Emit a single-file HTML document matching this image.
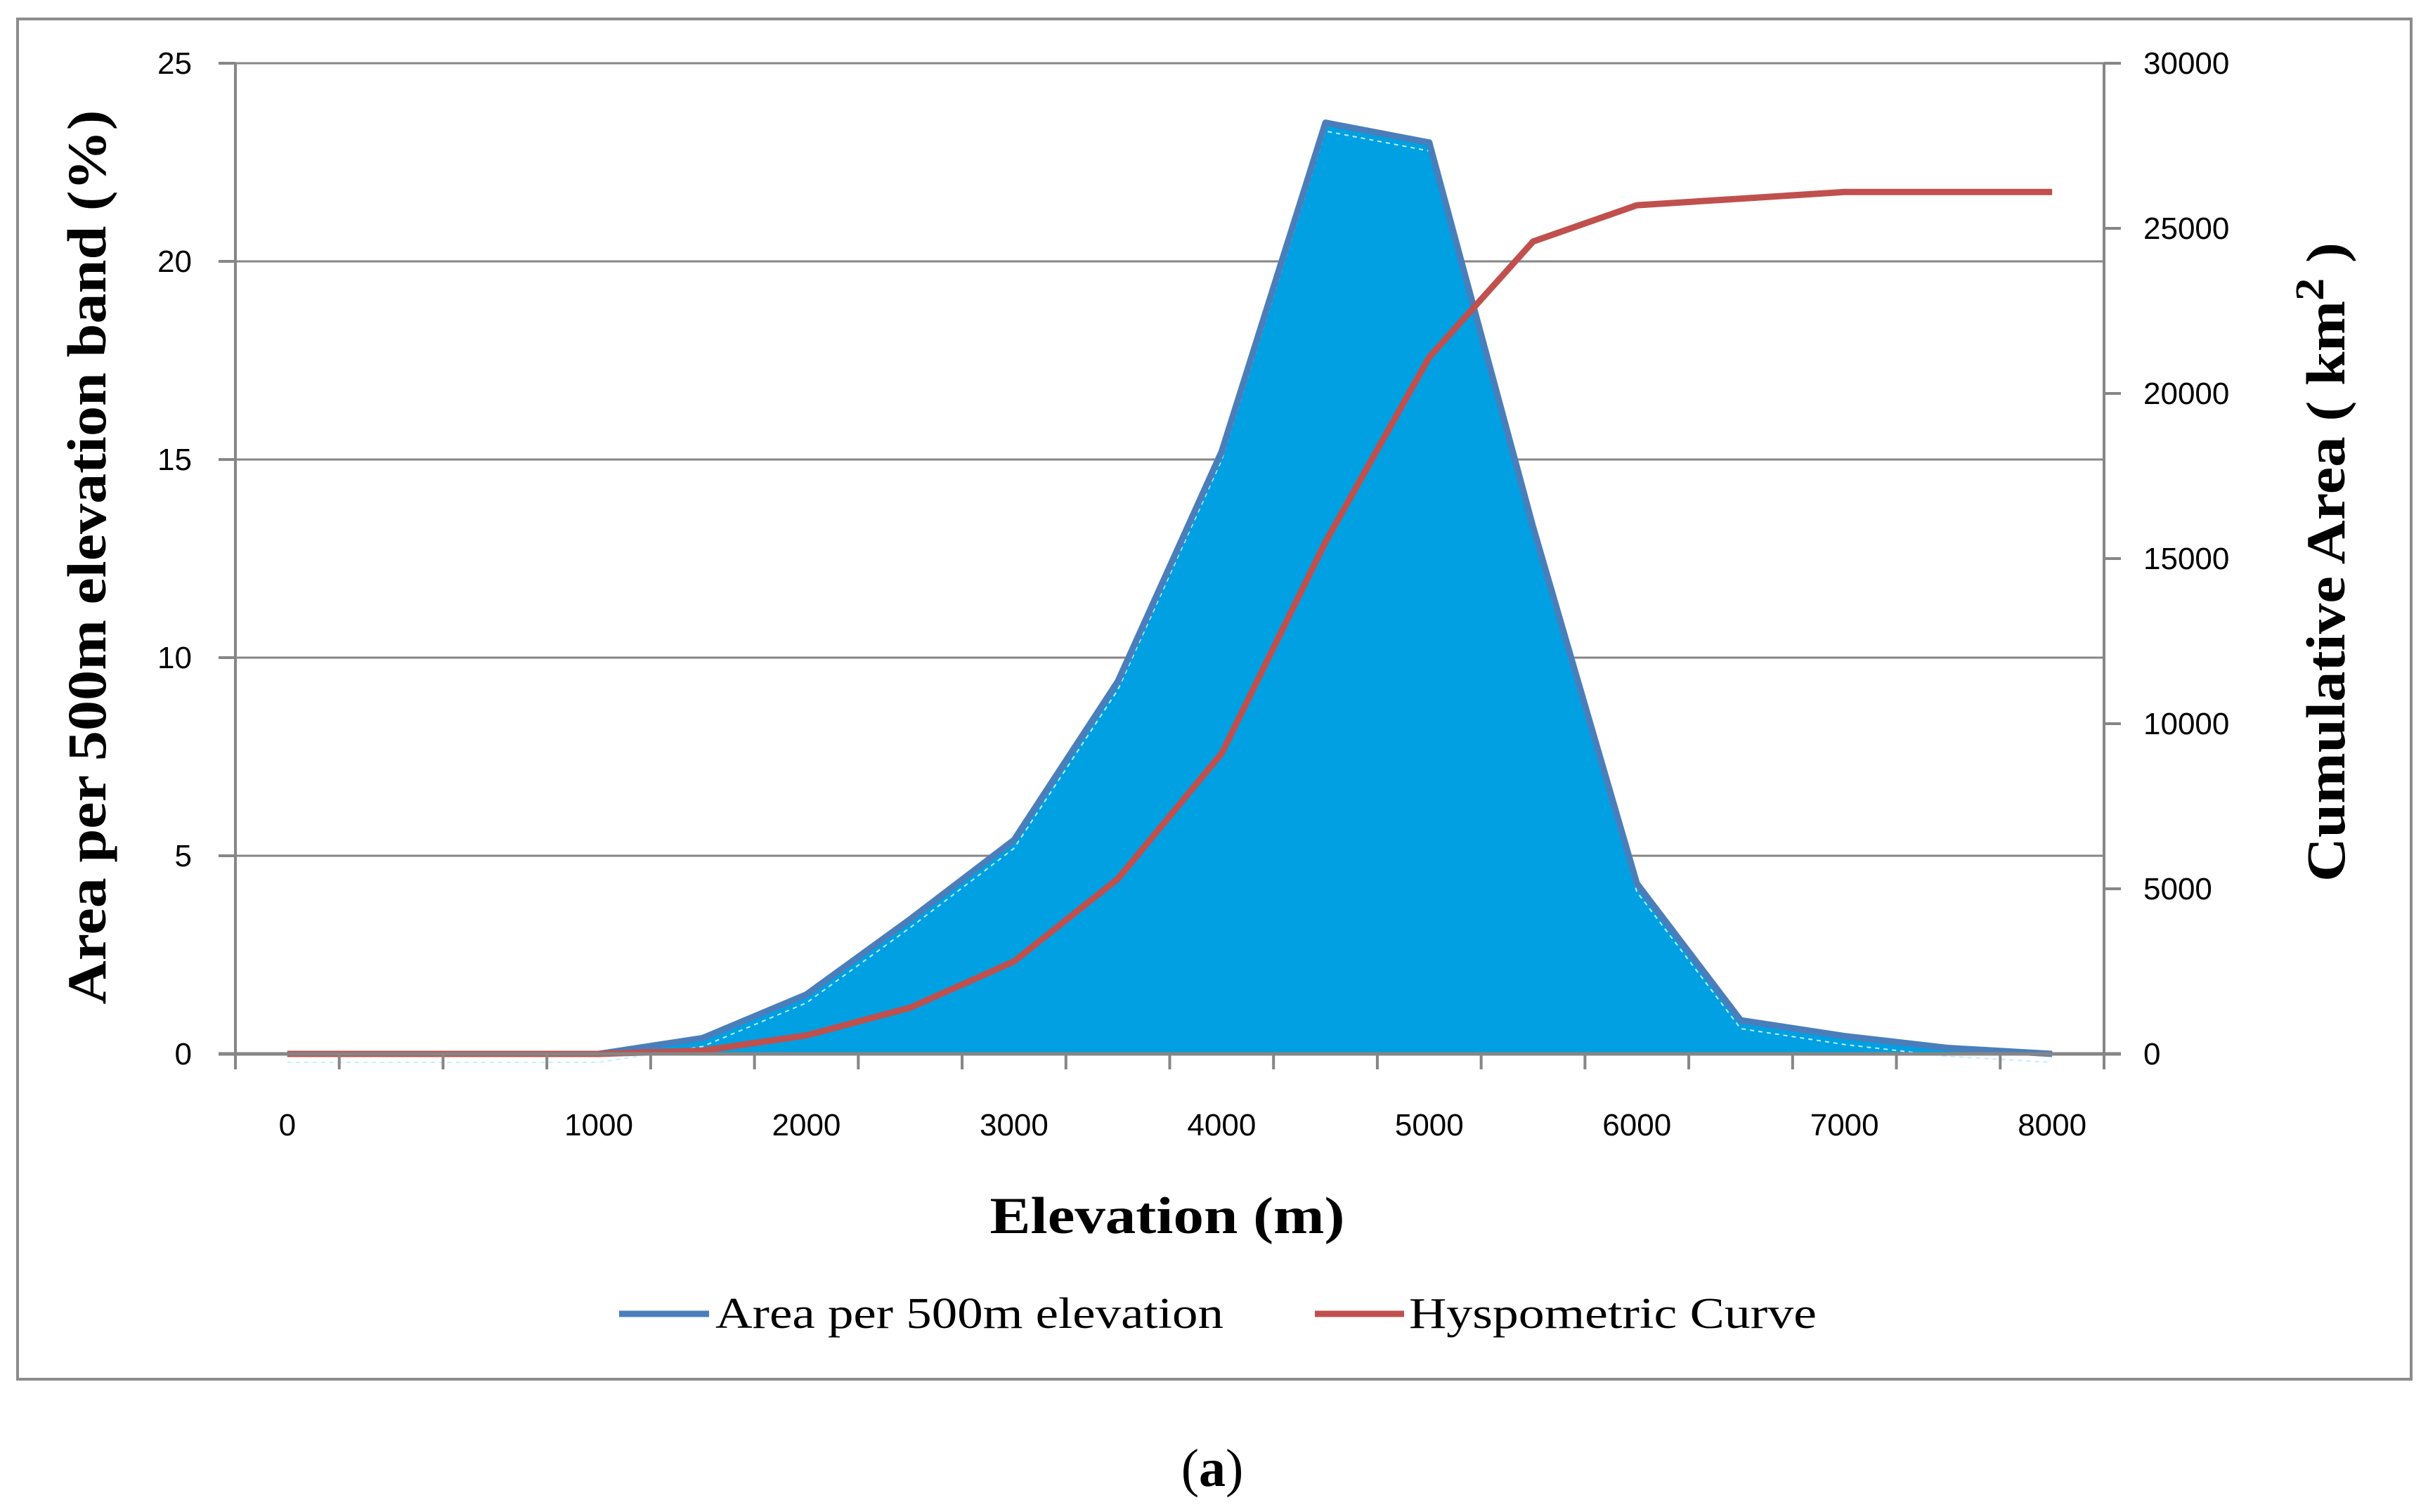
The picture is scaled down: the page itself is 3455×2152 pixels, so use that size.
<!DOCTYPE html>
<html><head><meta charset="utf-8"><style>
html,body{margin:0;padding:0;background:#fff;}
svg{display:block;}
</style></head><body>
<svg id="chart" width="3455" height="2152" viewBox="0 0 3455 2152" xmlns="http://www.w3.org/2000/svg">
<rect x="25" y="27" width="3406" height="1936" fill="#fff" stroke="#8c8c8c" stroke-width="4"/>
<g id="grid"></g>
<g id="series"></g>
<g id="axes"></g>
<text transform="translate(150,793) rotate(-90)" text-anchor="middle" font-family="Liberation Serif, serif" font-weight="bold" font-size="78" textLength="1273" lengthAdjust="spacingAndGlyphs">Area per 500m elevation band (%)</text>
<text transform="translate(3336,1255) rotate(-90)" text-anchor="start" font-family="Liberation Serif, serif" font-weight="bold" font-size="78" textLength="910" lengthAdjust="spacingAndGlyphs">Cumulative Area ( km<tspan font-size="58" dy="-30">2</tspan><tspan dy="30"> )</tspan></text>
<text x="1661" y="1755" text-anchor="middle" font-family="Liberation Serif, serif" font-weight="bold" font-size="74" textLength="505" lengthAdjust="spacingAndGlyphs">Elevation (m)</text>
<g>
<line x1="881" y1="1870" x2="1009" y2="1870" stroke="#4a7ebb" stroke-width="9"/>
<text x="1018" y="1890" font-family="Liberation Serif, serif" font-size="62" textLength="723" lengthAdjust="spacingAndGlyphs">Area per 500m elevation</text>
<line x1="1871" y1="1870" x2="1998" y2="1870" stroke="#c0504d" stroke-width="9"/>
<text x="2005" y="1890" font-family="Liberation Serif, serif" font-size="62" textLength="580" lengthAdjust="spacingAndGlyphs">Hyspometric Curve</text>
</g>
<text x="1725" y="2115" text-anchor="middle" font-family="Liberation Serif, serif" font-size="76">(<tspan font-weight="bold">a</tspan>)</text>
</svg>
<script>
const categories = ["0","","","1000","","2000","","3000","","4000","","5000","","6000","","7000","","8000"];
const areaPercent = [0,0,0,0,0.4,1.5,3.4,5.4,9.4,15.2,23.5,23.0,13.3,4.3,0.85,0.45,0.15,0];
const cumulativeArea = [0,0,0,0,100,560,1400,2800,5300,9100,15500,21100,24600,25700,25900,26100,26100,26100];
const leftTicks = [0,5,10,15,20,25];
const rightTicks = [0,5000,10000,15000,20000,25000,30000];

const NS="http://www.w3.org/2000/svg";
const L=335,R=2994,T=90,B=1500;
const cw=(R-L)/categories.length;
const xc=i=>L+cw*(i+0.5);
const yL=v=>B-(v/25)*(B-T);
const yR=v=>B-(v/30000)*(B-T);
function mk(tag,attrs,parent){const e=document.createElementNS(NS,tag);for(const k in attrs)e.setAttribute(k,attrs[k]);parent.appendChild(e);return e;}
const grid=document.getElementById('grid'),series=document.getElementById('series'),axes=document.getElementById('axes');
leftTicks.forEach(v=>{
  if(v>0){const g=mk('line',{x1:L,x2:R,y1:yL(v),y2:yL(v),stroke:'#868686','stroke-width':3},grid);
  
  }
  const tk=mk('line',{x1:L-24,x2:L,y1:yL(v),y2:yL(v),stroke:'#868686','stroke-width':4},axes);
  
  
  const t=mk('text',{x:273,y:yL(v)+15,'text-anchor':'end','font-family':'Liberation Sans, sans-serif','font-size':44},axes);
  
  
  t.textContent=v;
});
rightTicks.forEach(v=>{
  const tk=mk('line',{x1:R,x2:R+24,y1:yR(v),y2:yR(v),stroke:'#868686','stroke-width':4},axes);
  
  
  const t=mk('text',{x:3050,y:yR(v)+15,'font-family':'Liberation Sans, sans-serif','font-size':44},axes);
  
  
  t.textContent=v;
});
let a=mk('line',{x1:L,x2:L,y1:T,y2:B,stroke:'#868686','stroke-width':4},axes);


a=mk('line',{x1:R,x2:R,y1:T,y2:B,stroke:'#868686','stroke-width':4},axes);


a=mk('line',{x1:L-24,x2:R+24,y1:B,y2:B,stroke:'#868686','stroke-width':5},axes);


for(let i=0;i<=categories.length;i++){
  const tk=mk('line',{x1:L+cw*i,x2:L+cw*i,y1:B,y2:B+22,stroke:'#868686','stroke-width':4},axes);
  
  
}
categories.forEach((c,i)=>{
  if(!c)return;
  const t=mk('text',{x:xc(i),y:1616,'text-anchor':'middle','font-family':'Liberation Sans, sans-serif','font-size':44},axes);
  
  
  t.textContent=c;
});
let pts=areaPercent.map((v,i)=>xc(i)+','+yL(v)).join(' ');
const area=mk('polygon',{points:xc(0)+','+B+' '+pts+' '+xc(areaPercent.length-1)+','+B,fill:'#00a0e2'},series);


const inner=mk('polyline',{points:areaPercent.map((v,i)=>xc(i)+','+(yL(v)+12)).join(' '),fill:'none',stroke:'#bfefff','stroke-width':2,'stroke-dasharray':'6,6'},series);


const aline=mk('polyline',{points:pts,fill:'none',stroke:'#4a7ebb','stroke-width':9,'stroke-linejoin':'round'},series);


const rline=mk('polyline',{points:cumulativeArea.map((v,i)=>xc(i)+','+yR(v)).join(' '),fill:'none',stroke:'#c0504d','stroke-width':9,'stroke-linejoin':'round'},series);


</script>
</body></html>
